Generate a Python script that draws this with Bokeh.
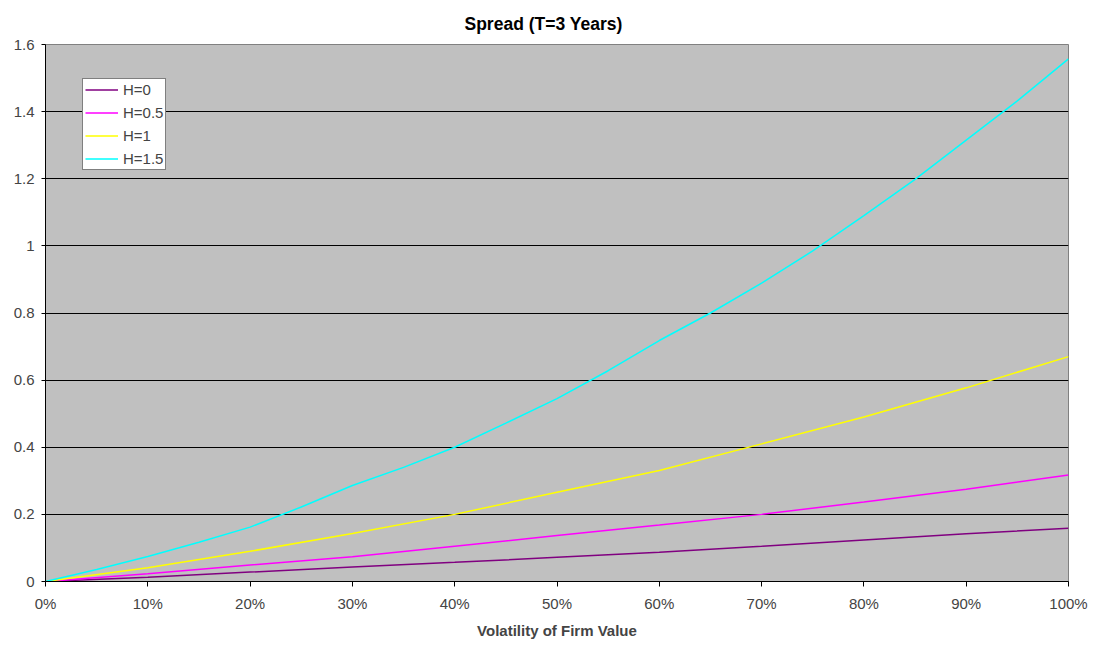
from bokeh.plotting import figure
from bokeh.models import (Range1d, FixedTicker, NumeralTickFormatter, Legend, LegendItem)
from bokeh.embed import file_html
from bokeh.resources import INLINE

# ---- data ----
volatility = [0.0, 0.1, 0.2, 0.3, 0.4, 0.5, 0.6, 0.7, 0.8, 0.9, 1.0]
h0   = [0.0, 0.013, 0.028, 0.043, 0.057, 0.072, 0.087, 0.105, 0.124, 0.142, 0.159]
h05  = [0.0, 0.023, 0.049, 0.074, 0.105, 0.137, 0.168, 0.200, 0.237, 0.275, 0.317]
h1   = [0.0, 0.041, 0.090, 0.143, 0.200, 0.266, 0.331, 0.410, 0.490, 0.577, 0.670]
volatility_fine = [0.0, 0.05, 0.1, 0.15, 0.2, 0.25, 0.3, 0.35, 0.4, 0.45, 0.5,
                   0.55, 0.6, 0.65, 0.7, 0.75, 0.8, 0.85, 0.9, 0.95, 1.0]
h15  = [0.0, 0.036, 0.0745, 0.117, 0.162, 0.222, 0.286, 0.340, 0.400, 0.472, 0.545,
        0.628, 0.718, 0.800, 0.889, 0.985, 1.090, 1.198, 1.315, 1.432, 1.557]
series_names = ["H=0", "H=0.5", "H=1", "H=1.5"]
series_colors = ["#800080", "#FF00FF", "#FFFF00", "#00FFFF"]
x_ticks = [0.0, 0.1, 0.2, 0.3, 0.4, 0.5, 0.6, 0.7, 0.8, 0.9, 1.0]
y_ticks = [0.0, 0.2, 0.4, 0.6, 0.8, 1.0, 1.2, 1.4, 1.6]
title_text = "Spread (T=3 Years)"

FONT = "Liberation Sans"

p = figure(width=1090, height=645, output_backend="svg", toolbar_location=None,
           x_range=Range1d(0, 1), y_range=Range1d(0, 1.6),
           min_border_left=45, min_border_right=22, min_border_top=44,
           min_border_bottom=64)

p.background_fill_color = "#C0C0C0"
p.border_fill_color = "white"
p.outline_line_color = "#808080"
p.outline_line_width = 1

# title
p.title.text = title_text
p.title.text_font = FONT
p.title.text_font_size = "17.5px"
p.title.text_font_style = "bold"
p.title.text_color = "black"
p.title.align = "left"
p.title.vertical_align = "top"
p.title.offset = 419
p.title.standoff = 18

# axes
xa = p.xaxis[0]
xa.ticker = FixedTicker(ticks=x_ticks)
xa.formatter = NumeralTickFormatter(format="0%")
xa.axis_label = "Volatility of Firm Value"
xa.axis_label_text_font = FONT
xa.axis_label_text_font_size = "15px"
xa.axis_label_text_font_style = "bold"
xa.axis_label_standoff = 7
xa.major_label_text_font = FONT
xa.major_label_text_font_size = "15px"
xa.major_label_standoff = 8
xa.major_tick_in = 0
xa.major_tick_out = 5
xa.minor_tick_in = 0
xa.minor_tick_out = 0
xa.axis_line_color = "black"
xa.major_tick_line_color = "black"

ya = p.yaxis[0]
ya.ticker = FixedTicker(ticks=y_ticks)
ya.formatter = NumeralTickFormatter(format="0.[0]")
ya.major_label_text_font = FONT
ya.major_label_text_font_size = "15px"
ya.major_label_standoff = 7
ya.major_tick_in = 0
ya.major_tick_out = 4
ya.minor_tick_in = 0
ya.minor_tick_out = 0
ya.axis_line_color = "black"
ya.major_tick_line_color = "black"

p.xgrid.visible = False
p.ygrid.ticker = FixedTicker(ticks=y_ticks[1:-1])
p.ygrid.grid_line_color = "black"
p.ygrid.grid_line_width = 1

# lines
items = []
xs_list = [volatility, volatility, volatility, volatility_fine]
for name, xs, ys, col in zip(series_names, xs_list, [h0, h05, h1, h15], series_colors):
    r = p.line(xs, ys, line_color=col, line_width=1.5)
    items.append(LegendItem(label=name, renderers=[r]))

legend = Legend(items=items, location=(37, 411))
legend.label_text_font = FONT
legend.label_text_font_size = "15px"
legend.label_height = 17
legend.glyph_height = 17
legend.glyph_width = 33
legend.label_standoff = 5
legend.spacing = 6
legend.padding = 2
legend.margin = 0
legend.border_line_color = "black"
legend.border_line_width = 1
legend.background_fill_color = "white"
legend.background_fill_alpha = 1.0
p.add_layout(legend, "center")

open("out.html", "w").write(file_html(p, INLINE))
